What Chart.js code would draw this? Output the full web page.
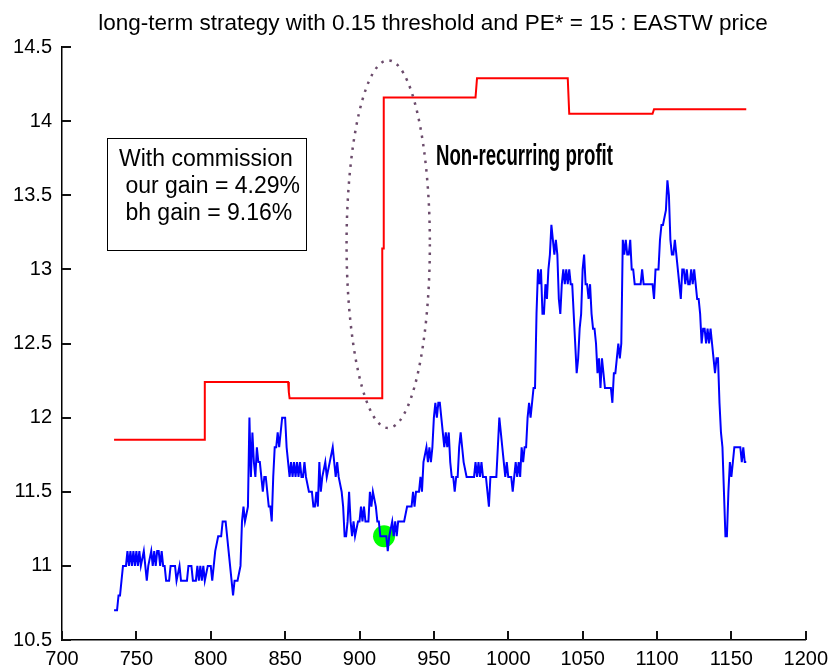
<!DOCTYPE html>
<html>
<head>
<meta charset="utf-8">
<title>EASTW price</title>
<script src="https://cdn.jsdelivr.net/npm/chart.js@4.4.1/dist/chart.umd.min.js"></script>
<style>
    html, body { margin: 0; padding: 0; background: #fff; }
</style>
</head>
<body>
<canvas id="chart" width="835" height="668"></canvas>
<script>
/**
 * @fileoverview long-term strategy vs EASTW price (MATLAB style figure)
 */

const TITLE = 'long-term strategy with 0.15 threshold and PE* = 15 : EASTW price';
const BOX_LINES = ['With commission', ' our gain = 4.29%', ' bh gain = 9.16%'];
const NOTE = 'Non-recurring profit';

const X_TICKS = [700, 750, 800, 850, 900, 950, 1000, 1050, 1100, 1150, 1200];
const Y_TICKS = [10.5, 11, 11.5, 12, 12.5, 13, 13.5, 14, 14.5];

// daily EASTW price
const priceDays = [
    735, 737, 738, 739, 740, 741, 743, 744, 745, 746,
    747, 748, 749, 750, 751, 752, 753, 755, 756, 757,
    758, 760, 761, 762, 763, 764, 765, 766, 767, 768,
    769, 770, 772, 773, 776, 777, 779, 780, 782, 784,
    785, 787, 788, 790, 791, 792, 793, 794, 795, 796,
    798, 800, 801, 802, 803, 805, 807, 808, 810, 811,
    812, 813, 814, 815, 816, 818, 820, 821, 822, 823,
    825, 826, 827, 828, 829, 830, 831, 832, 833, 834,
    835, 836, 837, 838, 839, 840, 841, 842, 843, 844,
    845, 846, 848, 850, 851, 852,
    853, 854, 855, 856, 857, 858, 859, 860, 861, 862,
    863, 864, 866, 868, 869, 870, 871, 872, 873, 874,
    875, 877, 878, 880, 882, 883, 884, 885, 886, 888,
    889, 890, 891, 892, 893, 894, 895, 896, 897, 899,
    900, 901, 902, 903, 904, 906, 907, 908, 909, 911,
    912, 913, 914, 916, 918, 919, 920, 922, 923, 924,
    925, 926, 928, 930, 932, 935, 936, 937, 938, 940,
    941, 942, 943, 945, 946, 947, 948, 949, 950, 951,
    952, 953, 954, 955, 956, 957, 958, 959, 960, 961,
    962, 963, 964, 965, 966, 967, 968, 969, 970, 972,
    975, 977, 978, 979, 980, 981, 982, 983, 985, 986,
    987, 988, 992, 993, 994, 995, 996, 997, 998, 999,
    1000, 1002, 1003, 1004, 1005, 1006, 1007, 1008, 1009, 1010,
    1011, 1012, 1013, 1014, 1015, 1016, 1017, 1018,
    1019, 1020, 1021, 1022, 1023, 1024, 1025, 1026, 1027, 1028,
    1029, 1030, 1031, 1032, 1033, 1034, 1035, 1036, 1037, 1038,
    1039, 1040, 1041, 1042, 1043, 1044, 1045, 1046, 1047, 1048,
    1049, 1050, 1051, 1052, 1053, 1054, 1055, 1056, 1057, 1058,
    1059, 1060, 1061, 1062, 1063, 1064, 1065, 1067, 1069, 1070,
    1071, 1072, 1073, 1074, 1075, 1076, 1077, 1078, 1079, 1080,
    1081, 1082, 1083, 1084, 1085, 1087, 1089, 1090, 1091, 1093,
    1095, 1097, 1098, 1099, 1100, 1101, 1102, 1103, 1104, 1106,
    1107, 1108, 1109, 1110, 1111, 1112, 1113, 1114, 1115, 1116,
    1117, 1118, 1119, 1120, 1121, 1122, 1123, 1124, 1125, 1126,
    1127, 1128, 1129, 1130, 1131, 1132, 1133, 1134, 1135, 1136,
    1137, 1138, 1139, 1140, 1141, 1142, 1143, 1144, 1145, 1146,
    1147, 1148, 1149, 1150, 1151, 1152, 1154, 1156, 1157, 1158,
    1159, 1160
];
const priceValues = [
    10.7, 10.7, 10.8, 10.8, 10.9, 11.0, 11.0, 11.1, 11.0, 11.1,
    11.0, 11.1, 11.0, 11.1, 11.0, 11.1, 11.0, 11.1, 11.0, 10.9,
    11.0, 11.1, 11.0, 11.1, 11.0, 11.1, 11.1, 11.0, 11.1, 11.0,
    11.0, 10.9, 10.9, 11.0, 11.0, 10.9, 11.0, 10.9, 10.9, 10.9,
    11.0, 11.0, 10.9, 10.9, 11.0, 10.9, 11.0, 10.9, 11.0, 10.9,
    11.0, 11.0, 10.9, 11.0, 11.1, 11.2, 11.2, 11.3, 11.3, 11.2,
    11.1, 11.0, 10.9, 10.8, 10.9, 10.9, 11.0, 11.3, 11.4, 11.3,
    11.4, 12.0, 11.6, 11.9, 11.7, 11.6, 11.8, 11.7, 11.7, 11.6,
    11.5, 11.6, 11.6, 11.5, 11.4, 11.4, 11.3, 11.6, 11.8, 11.8,
    11.9, 11.8, 12.0, 12.0, 11.8, 11.7,
    11.6, 11.7, 11.6, 11.7, 11.6, 11.7, 11.6, 11.7, 11.6, 11.6,
    11.7, 11.6, 11.5, 11.5, 11.4, 11.4, 11.5, 11.4, 11.7, 11.5,
    11.6, 11.7, 11.6, 11.7, 11.8, 11.7, 11.6, 11.7, 11.6, 11.5,
    11.4, 11.2, 11.2, 11.3, 11.5, 11.3, 11.2, 11.3, 11.2, 11.3,
    11.3, 11.4, 11.3, 11.4, 11.3, 11.3, 11.5, 11.4, 11.5, 11.4,
    11.3, 11.3, 11.2, 11.2, 11.2, 11.1, 11.2, 11.3, 11.2, 11.3,
    11.2, 11.3, 11.3, 11.3, 11.4, 11.4, 11.5, 11.4, 11.5, 11.5,
    11.6, 11.5, 11.7, 11.8, 11.7, 11.8, 11.7, 11.8, 12.0, 12.1,
    12.0, 12.1, 12.1, 12.0, 11.9, 11.8, 11.9, 11.8, 11.9, 11.7,
    11.6, 11.6, 11.5, 11.6, 11.6, 11.8, 11.9, 11.8, 11.7, 11.6,
    11.6, 11.6, 11.7, 11.6, 11.7, 11.6, 11.7, 11.6, 11.6, 11.5,
    11.4, 11.6, 11.6, 11.8, 12.0, 11.9, 11.8, 11.7, 11.6, 11.7,
    11.6, 11.6, 11.5, 11.6, 11.7, 11.6, 11.7, 11.6, 11.8, 11.7,
    11.8, 11.8, 12.0, 12.1, 12.0, 12.1, 12.2, 12.2,
    12.7, 13.0, 12.9, 13.0, 12.7, 12.7, 12.9, 12.8, 13.0, 13.1,
    13.3, 13.2, 13.1, 13.2, 13.1, 12.8, 12.7, 12.9, 13.0, 12.9,
    13.0, 12.9, 13.0, 12.9, 12.9, 12.7, 12.5, 12.3, 12.4, 12.6,
    12.7, 13.0, 13.1, 12.9, 12.9, 12.8, 12.9, 12.7, 12.6, 12.6,
    12.5, 12.3, 12.4, 12.2, 12.4, 12.3, 12.2, 12.2, 12.2, 12.1,
    12.3, 12.3, 12.4, 12.5, 12.4, 12.5, 13.2, 13.1, 13.2, 13.1,
    13.1, 13.2, 13.0, 13.0, 12.9, 12.9, 12.9, 13.0, 12.9, 12.9,
    12.9, 12.9, 12.8, 13.0, 13.0, 13.0, 13.2, 13.3, 13.3, 13.4,
    13.6, 13.5, 13.2, 13.1, 13.1, 13.2, 13.1, 13.0, 12.9, 12.8,
    13.0, 13.0, 12.9, 13.0, 12.9, 12.9, 13.0, 12.9, 13.0, 12.9,
    12.8, 12.8, 12.7, 12.5, 12.6, 12.6, 12.5, 12.6, 12.5, 12.6,
    12.5, 12.4, 12.3, 12.4, 12.4, 12.1, 11.9, 11.8, 11.5, 11.2,
    11.2, 11.5, 11.7, 11.6, 11.7, 11.8, 11.8, 11.8, 11.7, 11.8,
    11.7, 11.7
];

// strategy value (step line)
const strategyDays = [735, 796, 796, 852, 852.5, 853, 915.3, 915.3, 916.3, 916.3, 978, 979, 1040, 1041, 1097, 1098, 1160];
const strategyValues = [11.85, 11.85, 12.24, 12.24, 12.17, 12.13, 12.13, 13.14, 13.14, 14.16, 14.16, 14.29, 14.29, 14.05, 14.05, 14.08, 14.08];

// buy point
const buyDays = [916.5];
const buyValues = [11.2];

// dotted ellipse around the jump: centre and half axes in data units
const ELLIPSE = { x: 919.3, y: 13.17, rx: 28, ry: 1.24 };

const FONT = '"Liberation Sans", Arial, sans-serif';
const TICK_LEN = 9;

function toPoints(xs, ys) {
    return xs.map((x, i) => ({ x, y: ys[i] }));
}

// title, inward ticks, text box, note and ellipse
const annotations = {
    id: 'annotations',
    afterDraw(chart) {
        const { ctx, chartArea: a, scales } = chart;
        const xs = scales.x;
        const ys = scales.y;
        ctx.save();

        // MATLAB style ticks pointing into the plot
        ctx.strokeStyle = '#111';
        ctx.lineWidth = 2;
        ctx.setLineDash([]);
        ctx.beginPath();
        X_TICKS.forEach(v => {
            const px = Math.round(xs.getPixelForValue(v));
            ctx.moveTo(px, a.bottom);
            ctx.lineTo(px, a.bottom - TICK_LEN);
        });
        Y_TICKS.forEach(v => {
            const py = Math.round(ys.getPixelForValue(v));
            ctx.moveTo(a.left, py);
            ctx.lineTo(a.left + TICK_LEN, py);
        });
        ctx.stroke();

        ctx.fillStyle = '#000';
        ctx.font = '22.5px ' + FONT;
        ctx.textAlign = 'center';
        ctx.textBaseline = 'alphabetic';
        ctx.fillText(TITLE, 433, 30);

        // text box
        ctx.strokeStyle = '#000';
        ctx.lineWidth = 1;
        ctx.strokeRect(107.5, 138.5, 199, 112);
        ctx.textAlign = 'left';
        ctx.font = '23px ' + FONT;
        BOX_LINES.forEach((s, i) => ctx.fillText(s, 119, 166 + i * 27));

        // bold condensed note
        ctx.font = 'bold 29px "Liberation Sans Narrow", ' + FONT;
        const w = ctx.measureText(NOTE).width;
        ctx.save();
        ctx.translate(436, 165);
        ctx.scale(177 / w, 1);
        ctx.fillText(NOTE, 0, 0);
        ctx.restore();

        // dotted ellipse
        const cx = xs.getPixelForValue(ELLIPSE.x);
        const cy = ys.getPixelForValue(ELLIPSE.y);
        const rx = xs.getPixelForValue(ELLIPSE.x + ELLIPSE.rx) - cx;
        const ry = cy - ys.getPixelForValue(ELLIPSE.y + ELLIPSE.ry);
        ctx.strokeStyle = '#6b4b6b';
        ctx.lineWidth = 2.5;
        ctx.setLineDash([2.5, 6]);
        ctx.beginPath();
        ctx.ellipse(cx, cy, rx, ry, 0, 0, Math.PI * 2);
        ctx.stroke();

        ctx.restore();
    }
};

const AXIS_STYLE = {
    type: 'linear',
    grid: { display: false, drawTicks: false },
    border: { display: true, color: '#000', width: 1.5 },
    ticks: { color: '#000', font: { family: FONT, size: 20 }, autoSkip: false, maxRotation: 0, callback: v => String(v) }
};

new Chart(document.getElementById('chart'), {
    type: 'line',
    data: {
        datasets: [
            {
                label: 'price',
                data: toPoints(priceDays, priceValues),
                borderColor: '#0000ff',
                borderWidth: 2,
                pointRadius: 0,
                tension: 0
            },
            {
                label: 'strategy',
                data: toPoints(strategyDays, strategyValues),
                borderColor: '#ff0000',
                borderWidth: 2,
                pointRadius: 0,
                tension: 0
            },
            {
                type: 'scatter',
                label: 'buy',
                data: toPoints(buyDays, buyValues),
                backgroundColor: '#00ff00',
                borderWidth: 0,
                pointRadius: 11
            }
        ]
    },
    options: {
        responsive: false,
        animation: false,
        devicePixelRatio: 1,
        layout: { padding: { top: 47, right: 23, left: 0, bottom: 0 } },
        plugins: { legend: { display: false }, tooltip: { enabled: false } },
        scales: {
            x: {
                ...AXIS_STYLE,
                min: 700,
                max: 1200,
                ticks: { ...AXIS_STYLE.ticks, padding: 7 },
                afterBuildTicks: s => { s.ticks = X_TICKS.map(value => ({ value })); },
                afterFit: s => { s.height = 28; }
            },
            y: {
                ...AXIS_STYLE,
                min: 10.5,
                max: 14.5,
                ticks: { ...AXIS_STYLE.ticks, padding: 10 },
                afterBuildTicks: s => { s.ticks = Y_TICKS.map(value => ({ value })); },
                afterFit: s => { s.width = 62; }
            }
        }
    },
    plugins: [annotations]
});
</script>
</body>
</html>
